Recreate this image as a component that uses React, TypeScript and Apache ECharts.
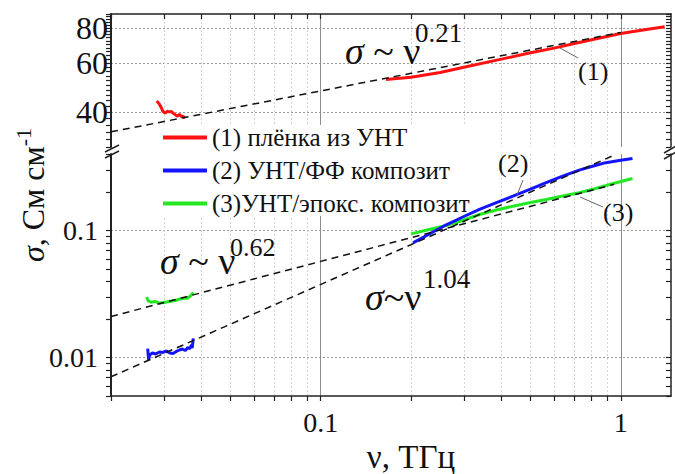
import React, { useEffect, useRef } from 'react';
import * as echarts from 'echarts';

// ---------- data ----------
const X_MIN = 0.02;
const X_MAX = 1.47;
const Y_UP_MIN = 30;
const Y_UP_MAX = 90;
const Y_LO_MIN = 0.005;
const Y_LO_MAX = 0.4;

const xMajorTicks = [0.1, 1];
const xMinorTicks = [0.02, 0.03, 0.04, 0.05, 0.06, 0.07, 0.08, 0.09, 0.2, 0.3, 0.4, 0.5, 0.6, 0.7, 0.8, 0.9];
const xAllTicks = [0.02, 0.03, 0.04, 0.05, 0.06, 0.07, 0.08, 0.09, 0.1, 0.2, 0.3, 0.4, 0.5, 0.6, 0.7, 0.8, 0.9, 1];
const yUpLabels = [40, 60, 80];
const yUpTicks = [30, 32, 34, 36, 38, 40, 42, 44, 46, 48, 50, 52, 54, 56, 58, 60, 62, 64, 66, 68, 70, 72, 74, 76, 78, 80, 82, 84, 86, 88, 90];
const yLoLabels = [0.01, 0.1];
const yLoTicks = [0.005, 0.006, 0.007, 0.008, 0.009, 0.01, 0.02, 0.03, 0.04, 0.05, 0.06, 0.07, 0.08, 0.09, 0.1, 0.2, 0.3, 0.4];

const seriesNames = ['(1) плёнка из УНТ', '(2) УНТ/ФФ композит', '(3)УНТ/эпокс. композит'];

// (1) CNT film, low-frequency fragment
const redLowX = [0.0284, 0.0289, 0.0294, 0.0298, 0.0303, 0.0308, 0.0313, 0.0318, 0.0323, 0.0328, 0.0333, 0.0338, 0.0343, 0.0348, 0.0353];
const redLowY = [43.9, 43.0, 41.6, 40.2, 39.7, 40.3, 40.1, 40.2, 39.6, 39.1, 38.7, 39.3, 38.6, 38.7, 38.0];
// (1) CNT film, THz fragment
const redHighX = [0.165, 0.2, 0.25, 0.3, 0.4, 0.5, 0.6, 0.7, 0.8, 1.0, 1.2, 1.4];
const redHighY = [52.4, 53.4, 55.5, 58.0, 62.0, 65.3, 67.9, 70.5, 72.8, 76.6, 79.0, 81.0];
// fit sigma ~ nu^0.21
const fit1X = [0.02, 1.0];
const fit1Y = [34, 77.3];

// (2) CNT/PF composite
const blueLowX = [0.0265, 0.0267, 0.0269, 0.0275, 0.0282, 0.029, 0.0298, 0.0306, 0.0314, 0.0322, 0.033, 0.0338, 0.0346, 0.0354, 0.036, 0.0366, 0.0371, 0.0373, 0.0376];
const blueLowY = [0.0118, 0.0096, 0.0105, 0.0109, 0.0107, 0.0111, 0.011, 0.0113, 0.0109, 0.0108, 0.0112, 0.0115, 0.0117, 0.0114, 0.012, 0.0118, 0.0126, 0.0119, 0.0142];
const blueHighX = [0.203, 0.23, 0.262, 0.3, 0.338, 0.385, 0.437, 0.5, 0.564, 0.64, 0.727, 0.81, 0.891, 1.0, 1.094];
const blueHighY = [0.08, 0.094, 0.111, 0.129, 0.1465, 0.166, 0.1865, 0.212, 0.238, 0.268, 0.299, 0.322, 0.342, 0.357, 0.368];
// fit sigma ~ nu^1.04
const fit2X = [0.02, 0.935];
const fit2Y = [0.00708, 0.385];

// (3) CNT/epoxy composite
const greenLowX = [0.0263, 0.0266, 0.0272, 0.028, 0.029, 0.03, 0.031, 0.032, 0.033, 0.034, 0.035, 0.036, 0.0368, 0.0376];
const greenLowY = [0.03, 0.028, 0.0273, 0.0277, 0.0269, 0.0272, 0.0276, 0.0279, 0.0283, 0.029, 0.0294, 0.0293, 0.0306, 0.0326];
const greenHighX = [0.2, 0.23, 0.262, 0.3, 0.338, 0.385, 0.437, 0.5, 0.564, 0.64, 0.727, 0.82, 0.938, 1.094];
const greenHighY = [0.0942, 0.102, 0.1095, 0.121, 0.1337, 0.145, 0.1555, 0.166, 0.1757, 0.187, 0.1985, 0.213, 0.2337, 0.257];
// fit sigma ~ nu^0.62
const fit3X = [0.02, 0.95];
const fit3Y = [0.0211, 0.231];

// ---------- layout / style ----------
const FONT = 'Liberation Serif, Times New Roman, DejaVu Serif, serif';
const GL = 111;
const GR = 4;
const UP_TOP = 14;
const UP_H = 133;
const LO_TOP = 154;
const LO_H = 242;
const RED = '#ff1111';
const BLUE = '#1414ff';
const GREEN = '#22e822';

const zip = (xs: number[], ys: number[]) => xs.map((x, i) => [x, ys[i]]);
const fmt = (v: number) => String(+Number(v).toPrecision(3));

function xAxisVisible(grid: number, position: string, inside: boolean, labels: boolean) {
  return {
    type: 'log', logBase: 10, min: X_MIN, max: X_MAX, gridIndex: grid, position,
    axisLine: { show: true, lineStyle: { color: '#222', width: 1.5 } },
    axisTick: { show: true, inside, length: 5, customValues: xAllTicks, lineStyle: { color: '#222', width: 1.2 } },
    axisLabel: labels
      ? { show: true, customValues: xMajorTicks, margin: 12, fontSize: 28, fontFamily: FONT, color: '#111', formatter: fmt }
      : { show: false },
    splitLine: { show: false },
  };
}
function xAxisGrid(grid: number, position: string, values: number[], style: any) {
  return {
    type: 'log', logBase: 10, min: X_MIN, max: X_MAX, gridIndex: grid, position,
    axisLine: { show: false },
    axisTick: { show: false, customValues: values },
    axisLabel: { show: false },
    splitLine: { show: true, lineStyle: style },
  };
}
function yAxisVisible(grid: number, position: string, inside: boolean, min: number, max: number, ticks: number[], labels: number[] | null, size = 28, margin = 5) {
  return {
    type: 'log', logBase: 10, min, max, gridIndex: grid, position,
    axisLine: { show: true, lineStyle: { color: '#222', width: position === 'left' ? 2 : 1.5 } },
    axisTick: { show: true, inside, length: 5, customValues: ticks, lineStyle: { color: '#222', width: 1.2 } },
    axisLabel: labels
      ? { show: true, customValues: labels, margin, fontSize: size, fontFamily: FONT, color: '#111', formatter: fmt }
      : { show: false },
    splitLine: { show: false },
  };
}
function yAxisGrid(grid: number, min: number, max: number, values: number[]) {
  return {
    type: 'log', logBase: 10, min, max, gridIndex: grid, position: 'left',
    axisLine: { show: false },
    axisTick: { show: false, customValues: values },
    axisLabel: { show: false },
    splitLine: { show: true, lineStyle: { color: '#9a9a9a', width: 1, type: [2, 2] } },
  };
}

const minorGridStyle = { color: '#d4d4d4', width: 1, type: [2, 2] };
const majorGridStyle = { color: '#8c8c8c', width: 1, type: 'solid' };

function dataLine(name: string, color: string, xi: number, yi: number, data: number[][]) {
  return {
    type: 'line', name, xAxisIndex: xi, yAxisIndex: yi, data,
    showSymbol: false, symbol: 'none', z: 2,
    lineStyle: { color, width: 3 }, itemStyle: { color },
  };
}
function fitLine(xi: number, yi: number, data: number[][]) {
  return {
    type: 'line', name: 'fit', xAxisIndex: xi, yAxisIndex: yi, data,
    showSymbol: false, symbol: 'none', z: 3, silent: true,
    lineStyle: { color: '#111', width: 1.5, type: [7, 5] }, itemStyle: { color: '#111' },
  };
}

function txt(x: number, y: number, text: string, size: number, extra: any = {}) {
  return {
    type: 'text', x, y, z: 100,
    style: { text, fill: '#111', fontFamily: FONT, fontSize: size, align: 'left', verticalAlign: 'middle', ...extra },
  };
}
function formula(x: number, y: number, main: string, sx: number, sy: number, sup: string, size: number, supSize: number) {
  return [
    {
      type: 'text', x, y, z: 100,
      style: {
        text: '{i|σ}{n|' + main + '}', align: 'left', verticalAlign: 'middle',
        rich: {
          i: { fontFamily: FONT, fontSize: size, fontStyle: 'italic', fill: '#111' },
          n: { fontFamily: FONT, fontSize: size, fill: '#111' },
        },
      },
    },
    txt(sx, sy, sup, supSize),
  ];
}
function seg(x1: number, y1: number, x2: number, y2: number, color = '#666', w = 1) {
  return { type: 'line', z: 100, shape: { x1, y1, x2, y2 }, style: { stroke: color, lineWidth: w } };
}

const option: any = {
  animation: false,
  backgroundColor: '#fff',
  textStyle: { fontFamily: FONT },
  grid: [
    { left: GL, right: GR, top: UP_TOP, height: UP_H, containLabel: false, outerBoundsMode: 'none' },
    { left: GL, right: GR, top: LO_TOP, height: LO_H, containLabel: false, outerBoundsMode: 'none' },
  ],
  xAxis: [
    xAxisVisible(0, 'top', true, false),
    xAxisGrid(0, 'bottom', xMinorTicks, minorGridStyle),
    { ...xAxisGrid(0, 'bottom', xMajorTicks, majorGridStyle), offset: 0 },
    {
      ...xAxisVisible(1, 'bottom', false, true),
      name: 'ν, ТГц', nameLocation: 'middle', nameGap: 41,
      nameTextStyle: { fontFamily: FONT, fontSize: 33, color: '#111', padding: [0, 0, 0, 40] },
    },
    xAxisGrid(1, 'top', xMinorTicks, minorGridStyle),
    { ...xAxisGrid(1, 'top', xMajorTicks, majorGridStyle), offset: 0 },
  ],
  yAxis: [
    yAxisVisible(0, 'left', false, Y_UP_MIN, Y_UP_MAX, yUpTicks, yUpLabels, 32, 3),
    yAxisVisible(0, 'right', true, Y_UP_MIN, Y_UP_MAX, yUpTicks, null),
    yAxisGrid(0, Y_UP_MIN, Y_UP_MAX, yUpLabels),
    yAxisVisible(1, 'left', false, Y_LO_MIN, Y_LO_MAX, yLoTicks, yLoLabels, 28, 13),
    yAxisVisible(1, 'right', true, Y_LO_MIN, Y_LO_MAX, yLoTicks, null),
    yAxisGrid(1, Y_LO_MIN, Y_LO_MAX, yLoLabels),
  ],
  legend: {
    data: seriesNames,
    orient: 'vertical', left: 157, top: 125,
    icon: 'rect', itemWidth: 44, itemHeight: 4, itemGap: 8,
    backgroundColor: '#fff', padding: [0, 6, 0, 6],
    textStyle: { fontFamily: FONT, fontSize: 25, color: '#111' },
    z: 1,
  },
  series: [
    dataLine(seriesNames[0], RED, 0, 0, zip(redLowX, redLowY)),
    dataLine(seriesNames[0], RED, 0, 0, zip(redHighX, redHighY)),
    fitLine(0, 0, zip(fit1X, fit1Y)),
    dataLine(seriesNames[2], GREEN, 3, 3, zip(greenLowX, greenLowY)),
    dataLine(seriesNames[2], GREEN, 3, 3, zip(greenHighX, greenHighY)),
    dataLine(seriesNames[1], BLUE, 3, 3, zip(blueLowX, blueLowY)),
    dataLine(seriesNames[1], BLUE, 3, 3, zip(blueHighX, blueHighY)),
    fitLine(3, 3, zip(fit2X, fit2Y)),
    fitLine(3, 3, zip(fit3X, fit3Y)),
  ],
  graphic: [
    // axis break marks
    seg(105, 152, 119, 145, '#222', 1.5),
    seg(105, 158, 119, 151, '#222', 1.5),
    seg(664, 153, 676, 146, '#222', 1.5),
    seg(664, 159, 676, 152, '#222', 1.5),
    // y axis title
    {
      type: 'text', x: 33, y: 195, rotation: Math.PI / 2, z: 100,
      style: {
        text: '{i|σ}{n|, См см}{s|-1}', align: 'center', verticalAlign: 'middle',
        rich: {
          i: { fontFamily: FONT, fontSize: 32, fontStyle: 'italic', fill: '#111', lineHeight: 42 },
          n: { fontFamily: FONT, fontSize: 32, fill: '#111', lineHeight: 42 },
          s: { fontFamily: FONT, fontSize: 22, fill: '#111', lineHeight: 22, verticalAlign: 'top' },
        },
      },
    },
    // power-law annotations
    ...formula(345, 51, ' ~ ν', 415, 33, '0.21', 38, 27),
    ...formula(160, 261, ' ~ ν', 230, 247, '0.62', 38, 26),
    ...formula(365, 297, '~ν', 423, 279, '1.04', 38, 27),
    // curve labels with leaders
    seg(560, 48, 578, 58),
    txt(578, 71, '(1)', 26),
    seg(523, 180, 517, 195),
    txt(498, 163, '(2)', 26),
    seg(580, 197, 603, 207),
    txt(603, 212, '(3)', 26),
  ],
};

export default function App() {
  const ref = useRef<HTMLDivElement>(null);
  useEffect(() => {
    const chart = echarts.init(ref.current as HTMLDivElement, null, { renderer: 'svg' });
    chart.setOption(option);
    return () => chart.dispose();
  }, []);
  return (
    <div
      ref={ref}
      style={{ position: 'fixed', left: 0, top: 0, width: 675, height: 474, background: '#fff' }}
    />
  );
}
